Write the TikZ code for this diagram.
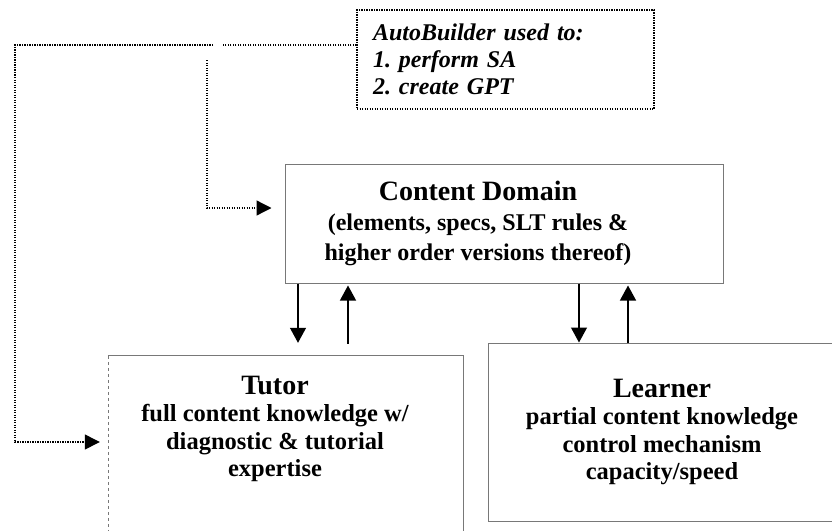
\documentclass[tikz,border=0pt]{standalone}
\usepackage{fontspec}
\setmainfont{Liberation Serif}
\usetikzlibrary{arrows.meta}
\definecolor{boxgray}{RGB}{120,120,120}
\frenchspacing

\begin{document}
\begin{tikzpicture}[x=1pt,y=-1pt,
  box/.style={draw=boxgray,line width=1pt,inner sep=0pt},
  flow/.style={-{Triangle[length=15pt,width=16pt]},line width=1.2pt},
  link/.style={line width=1.3pt,dash pattern=on 1.2pt off 1.3pt},
  linkarrow/.style={link,-{Triangle[length=15pt,width=15pt]}},
  txt/.style={font=\fontsize{24.5}{27.5}\selectfont\bfseries,align=center,inner sep=0pt}]
\useasboundingbox (0,0) rectangle (832,530);
\clip (0,0) rectangle (832,530);
% boxes
\node[draw,link,minimum width=297pt,minimum height=99pt,text width=265pt,inner xsep=16pt,inner ysep=0pt,align=left,font=\fontsize{24}{27}\selectfont\bfseries\itshape] (auto) at (505.5,59.5) {AutoBuilder used to:\\1. perform SA\\2. create GPT};
\node[box,minimum width=438pt,minimum height=119pt] (content) at (504,223.5) {};
\node[inner sep=0pt,minimum width=355pt,minimum height=189pt] (tutor) at (285.5,450.5) {};
\draw[draw=boxgray,line width=1pt] (tutor.north west) -- (tutor.north east) -- (tutor.south east);
\draw[draw=boxgray,line width=0.6pt,dashed] (tutor.north west) -- (tutor.south west);
\node[box,minimum width=357pt,minimum height=178pt] (learner) at (666.5,432) {};
% texts
\node[txt,font=\fontsize{24}{30}\selectfont\bfseries] (contenttext) at (478,223) {{\fontsize{28}{31}\selectfont Content Domain}\\(elements, specs, SLT rules \&\\higher order versions thereof)};
\node[txt] (tutortext) at (275,429) {{\fontsize{28}{31}\selectfont Tutor}\\full content knowledge w/\\diagnostic \& tutorial\\expertise};
\node[txt] (learnertext) at (662,432) {{\fontsize{28}{31}\selectfont Learner}\\partial content knowledge\\control mechanism\\capacity/speed};
% dotted links from AutoBuilder
\coordinate (gapR) at (223,45);
\coordinate (gapL) at (213,45);
\coordinate (corner) at (15,45);
\coordinate (branch) at (207,60);
\draw[link] ([yshift=14.5pt]auto.west) -- (gapR);
\draw[linkarrow] (gapL) -- (corner) |- ([xshift=-8pt,yshift=8.5pt]tutor.west);
\draw[linkarrow] (branch) |- ([xshift=-13pt,yshift=15.5pt]content.west);
% solid arrows
\draw[flow] ([xshift=-206pt]content.south) -- ([xshift=12.5pt,yshift=13pt]tutor.north);
\draw[flow] ([xshift=62.5pt,yshift=12pt]tutor.north) -- ([xshift=-156pt,yshift=-2pt]content.south);
\draw[flow] ([xshift=75pt]content.south) -- ([xshift=-87.5pt]learner.north);
\draw[flow] ([xshift=-38.5pt]learner.north) -- ([xshift=124pt,yshift=-2pt]content.south);
\end{tikzpicture}
\end{document}
